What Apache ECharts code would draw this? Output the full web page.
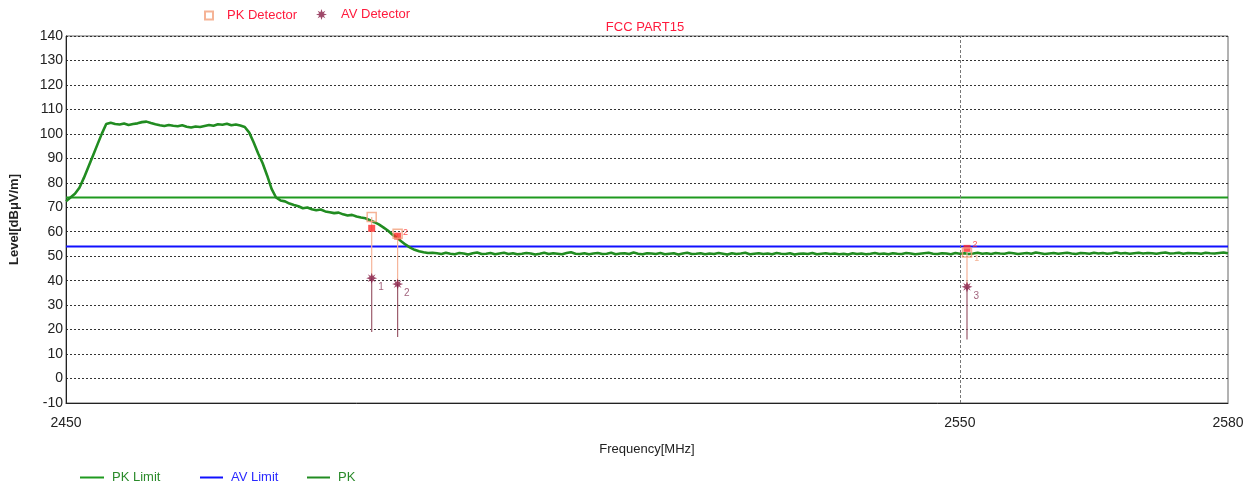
<!DOCTYPE html>
<html>
<head>
<meta charset="utf-8">
<script src="https://cdn.jsdelivr.net/npm/echarts@6/dist/echarts.min.js"></script>
<style>
html,body{margin:0;padding:0;background:#fff;}
#chart{width:1253px;height:486px;}
</style>
</head>
<body>
<div id="chart"></div>
<script>
// ---- data ----
var sweepStart = 2450;      // MHz, first sweep point
var sweepStep = 0.5;        // MHz between sweep points
var pkTrace = [
  72.5,74,75.5,78,82,86.5,91,95.5,100,104,
  104.5,104,103.8,104.2,103.6,104,104.3,104.8,105,104.4,
  103.9,103.5,103.2,103.6,103.3,103.1,103.5,102.9,102.6,103.0,
  102.8,103.2,103.6,103.3,103.9,103.7,104.1,103.5,103.8,103.4,
  102.8,100.5,96.5,92,88,83,77.5,74,72.8,72.4,
  71.5,70.9,70.4,69.6,69.9,69.2,68.8,69.1,68.3,68.0,
  67.6,67.8,67.1,66.6,66.9,66.2,65.8,65.5,64.7,63.9,
  63.0,61.8,60.5,58.9,57.6,56.1,54.7,53.5,52.6,52.0,
  51.6,51.3,51.4,
  51.2,50.9,51.4,51.0,50.8,51.3,51.1,50.7,51.2,51.5,
  50.9,51.0,51.3,50.8,51.1,51.4,50.9,51.2,50.8,51.0,
  51.3,51.1,50.7,51.0,51.4,50.9,51.2,51.0,50.8,51.3,
  51.6,51.0,50.9,51.2,50.8,51.1,51.3,50.9,51.0,51.4,
  50.8,51.1,51.2,50.9,51.5,51.0,50.8,51.2,51.1,50.9,
  51.3,50.8,51.0,51.2,50.7,51.1,51.4,50.9,51.0,51.2,
  50.8,51.1,50.9,51.3,51.0,50.7,51.2,50.9,51.1,51.4,
  50.8,51.0,51.2,50.9,51.1,50.8,51.3,51.0,50.9,51.2,
  50.7,51.0,51.1,50.9,51.3,50.8,51.0,51.2,50.9,51.1,
  50.8,51.0,50.7,51.2,50.9,51.1,50.8,51.0,51.3,50.9,
  51.1,50.8,51.2,51.0,50.9,51.3,51.1,50.8,51.0,51.2,
  51.4,51.0,50.9,51.2,51.1,50.8,51.3,51.0,51.2,50.9,
  51.1,51.4,51.0,51.2,50.9,51.3,51.1,51.0,51.4,51.2,
  50.9,51.1,51.3,51.0,51.5,51.2,50.9,51.1,51.3,51.0,
  51.2,51.4,51.1,50.9,51.3,51.2,51.0,51.4,51.1,51.3,
  51.0,51.2,51.5,51.1,51.3,51.0,51.2,51.4,51.1,51.3,
  51.2,51.0,51.3,51.5,51.1,51.2,51.4,51.0,51.3,51.2,
  51.2,51.0,51.4,51.2,51.1,51.3,51.5,51.2
];
var pkLimit = 74;
var avLimit = 54;
var markerFreq = [2484.2, 2487.1, 2550.8];
var pkDetector = [66.0, 59.2, 51.5];
var pkPrescan = [61.4, 58.2, 53.2];
var avDetector = [41.0, 38.6, 37.5];
var dropBottom = [19, 17, 16];
var avLabels = ['1', '2', '3'];
var prescanLabels = ['', '2', '2'];
var pkDetLabels = ['', '', '1'];
var xTicks = [2450, 2550, 2580];
var xMarkerLine = 2550;

// ---- chart ----
var font = "'Liberation Sans', Arial, sans-serif";
var tracePts = pkTrace.map(function (v, i) { return [sweepStart + i * sweepStep, v]; });
var starPath = 'path://M0,-10L2,-4L7,-7L4,-2L10,0L4,2L7,7L2,4L0,10L-2,4L-7,7L-4,2L-10,0L-4,-2L-7,-7L-2,-4Z';

var series = [
  {
    name: 'PK Limit', type: 'line', symbol: 'none', silent: true,
    data: [[2450, pkLimit], [2580, pkLimit]],
    lineStyle: { color: '#1f9a1f', width: 2 }, itemStyle: { color: '#1f9a1f' },
    markLine: {
      silent: true, symbol: 'none', label: { show: false },
      lineStyle: { color: '#777', type: [3, 2], width: 1 },
      data: [{ xAxis: xMarkerLine }]
    }
  },
  {
    name: 'AV Limit', type: 'line', symbol: 'none', silent: true,
    data: [[2450, avLimit], [2580, avLimit]],
    lineStyle: { color: '#1010ff', width: 2 }, itemStyle: { color: '#1010ff' }
  },
  {
    name: 'PK', type: 'line', symbol: 'none', silent: true,
    data: tracePts,
    lineStyle: { color: '#218c21', width: 2.6 }, itemStyle: { color: '#218c21' }
  }
];

markerFreq.forEach(function (f, i) {
  series.push({
    type: 'line', symbol: 'none', silent: true, z: 3,
    data: [[f, pkDetector[i]], [f, avDetector[i]]],
    lineStyle: { color: '#f6b49a', width: 1.2 }
  });
  series.push({
    type: 'line', symbol: 'none', silent: true, z: 3,
    data: [[f, avDetector[i]], [f, dropBottom[i]]],
    lineStyle: { color: '#9c5c6c', width: 1.2 }
  });
});

series.push({
  name: 'PK Prescan', type: 'scatter', z: 4, symbol: 'rect', symbolSize: 7,
  itemStyle: { color: '#ff2a2a' },
  data: markerFreq.map(function (f, i) { return [f, pkPrescan[i]]; }),
  label: {
    show: true, position: 'right', distance: 2, offset: [0, -4],
    color: '#ff2a2a', fontSize: 9, fontFamily: font,
    formatter: function (p) { return prescanLabels[p.dataIndex]; }
  }
});
series.push({
  name: 'PK Detector', type: 'scatter', z: 5, symbol: 'rect', symbolSize: 9,
  itemStyle: { color: 'rgba(255,255,255,0)', borderColor: '#f2a07c', borderWidth: 1.5 },
  data: markerFreq.map(function (f, i) { return [f, pkDetector[i]]; }),
  label: {
    show: true, position: 'right', distance: 2, offset: [0, 6],
    color: '#f2a07c', fontSize: 9, fontFamily: font,
    formatter: function (p) { return pkDetLabels[p.dataIndex]; }
  }
});
series.push({
  name: 'AV Detector', type: 'scatter', z: 5, symbol: starPath, symbolSize: 11,
  itemStyle: { color: '#861a44' },
  data: markerFreq.map(function (f, i) { return [f, avDetector[i]]; }),
  label: {
    show: true, position: 'right', distance: 1, offset: [0, 9],
    color: '#8a3a5a', fontSize: 10, fontFamily: font,
    formatter: function (p) { return avLabels[p.dataIndex]; }
  }
});

var legendText = function (c) { return { color: c, fontSize: 13, fontFamily: font, padding: [0, 0, 0, 3] }; };

var option = {
  backgroundColor: '#fff',
  animation: false,
  title: {
    text: 'FCC PART15', left: 640, top: 16, textAlign: 'center',
    textStyle: { color: '#ff1a3c', fontSize: 13, fontWeight: 'normal', fontFamily: font }
  },
  legend: [
    { data: ['PK Detector'], left: 199, top: 4, itemWidth: 8, itemHeight: 8, selectedMode: false,
      textStyle: { color: '#ff1a3c', fontSize: 13, fontFamily: font, padding: [0, 0, 0, 9] } },
    { data: ['AV Detector'], left: 311, top: 3, itemWidth: 11, itemHeight: 11, selectedMode: false,
      textStyle: { color: '#ff1a3c', fontSize: 13, fontFamily: font, padding: [0, 0, 0, 9] } },
    { data: ['PK Limit'], left: 75, top: 466, icon: 'rect', itemWidth: 24, itemHeight: 2, selectedMode: false,
      textStyle: legendText('#2a8a2a') },
    { data: ['AV Limit'], left: 195, top: 466, icon: 'rect', itemWidth: 23, itemHeight: 2, selectedMode: false,
      textStyle: legendText('#2a2aff') },
    { data: ['PK'], left: 302, top: 466, icon: 'rect', itemWidth: 23, itemHeight: 2, selectedMode: false,
      textStyle: legendText('#2a8a2a') }
  ],
  grid: {
    left: 64, right: 25, top: 36, bottom: 83, show: true,
    borderColor: '#666', borderWidth: 1, backgroundColor: '#fff'
  },
  xAxis: {
    type: 'value', min: 2450, max: 2580,
    name: 'Frequency[MHz]', nameLocation: 'middle', nameGap: 40,
    nameTextStyle: { color: '#222', fontSize: 13, fontFamily: font },
    axisLine: { show: true, onZero: false, lineStyle: { color: '#222', width: 1 } },
    axisTick: { show: false, customValues: xTicks },
    axisLabel: { customValues: xTicks, color: '#222', fontSize: 14, fontFamily: font, margin: 13,
      showMinLabel: true, showMaxLabel: true,
      formatter: function (v) { return String(v); } },
    splitLine: { show: false }
  },
  yAxis: {
    type: 'value', min: -10, max: 140, interval: 10,
    name: 'Level[dBμV/m]', nameLocation: 'middle', nameGap: 45, nameRotate: 90,
    nameTextStyle: { color: '#222', fontSize: 13, fontWeight: 'bold', fontFamily: font },
    axisLine: { show: true, onZero: false, lineStyle: { color: '#222', width: 1 } },
    axisTick: { show: false },
    axisLabel: { color: '#222', fontSize: 14, fontFamily: font, margin: 3 },
    splitLine: { show: true, lineStyle: { color: '#333', type: [2, 2], width: 1 } }
  },
  series: series
};

var chart = echarts.init(document.getElementById('chart'), null, { renderer: 'canvas' });
chart.setOption(option);
</script>
</body>
</html>
